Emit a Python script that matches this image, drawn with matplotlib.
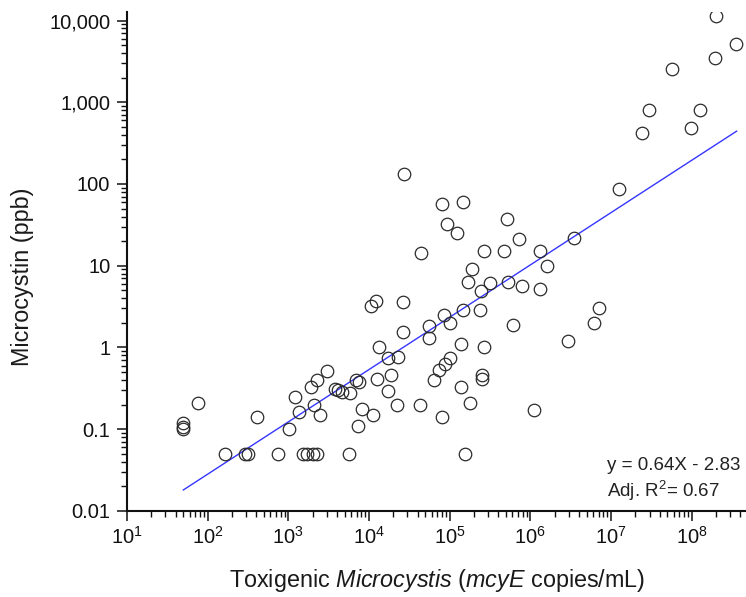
#! /usr/bin/env python

"""Microcystin vs toxigenic Microcystis (mcyE) scatter with log-log fit."""
import numpy as np
import matplotlib
matplotlib.use('Agg')
import matplotlib.pyplot as plt
from matplotlib import ticker

plt.rcParams['font.family'] = ['Liberation Sans', 'DejaVu Sans']
plt.rcParams['mathtext.fontset'] = 'custom'
plt.rcParams['mathtext.rm'] = 'Liberation Sans'
plt.rcParams['mathtext.it'] = 'Liberation Sans:italic'

# mcyE copies/mL
mcye = [50, 50, 50, 75, 165, 293, 316, 412, 745, 1020, 1210, 1370, 1530, 1690,
        2040, 2250, 5700, 1890, 2290, 2990, 2080, 2470, 3790, 4160, 4590, 5810,
        6900, 7580, 8120, 7370, 11300, 12450, 13400, 17300, 22700, 18900, 17200,
        22400, 10500, 12200, 26600, 26400, 55000, 55400, 42900, 63400, 74300,
        87500, 101000, 79600, 138000, 137000, 155000, 179000, 84300, 101000,
        145000, 238000, 248000, 269000, 249000, 249000, 604000, 1.12e6, 2.95e6,
        6.21e6, 7.16e6, 27100, 79600, 145000, 92700, 124000, 44100, 263000,
        189000, 171000, 316000, 518000, 723000, 471000, 1.30e6, 3.51e6, 1.62e6,
        531000, 777000, 1.32e6, 1.27e7, 2.0e8, 3.54e8, 1.95e8, 5.70e7, 2.96e7,
        1.27e8, 2.42e7, 9.9e7]
# microcystin, ppb
mc = [0.118, 0.107, 0.100, 0.21, 0.05, 0.05, 0.05, 0.14, 0.05, 0.10, 0.25, 0.164,
      0.05, 0.05, 0.05, 0.05, 0.05, 0.33, 0.40, 0.52, 0.20, 0.149, 0.31, 0.30,
      0.285, 0.275, 0.40, 0.38, 0.177, 0.109, 0.149, 0.41, 1.0, 0.74, 0.76, 0.46,
      0.29, 0.20, 3.2, 3.7, 3.6, 1.56, 1.32, 1.82, 0.20, 0.40, 0.53, 0.63, 0.74,
      0.14, 1.10, 0.33, 0.05, 0.21, 2.52, 2.0, 2.88, 2.88, 4.92, 1.0, 0.46, 0.41,
      1.90, 0.172, 1.20, 2.01, 3.02, 131, 57, 61, 32, 25, 14.2, 15.2, 9.1, 6.4,
      6.2, 37, 21, 15.2, 15.2, 22, 10, 6.4, 5.7, 5.2, 87, 11200, 5140, 3470,
      2540, 807, 800, 426, 482]

# fit: log10(y) = 0.64 log10(x) - 2.83
slope = 0.64
intercept = -2.83
fit_range = [50, 3.6e8]

y_ticks = [0.01, 0.1, 1, 10, 100, 1000, 10000]
x_ticks = [1e1, 1e2, 1e3, 1e4, 1e5, 1e6, 1e7, 1e8]

fig = plt.figure(figsize=(7.46, 5.97), dpi=100)
ax = fig.add_axes([0.1702, 0.1441, 0.8298, 0.8358])

fx = np.logspace(np.log10(fit_range[0]), np.log10(fit_range[1]), 50)
fy = 10 ** (slope * np.log10(fx) + intercept)
ax.plot(fx, fy, color='#3535ff', lw=1.0, zorder=2)

ax.plot(mcye, mc, 'o', ms=9, mfc='none', mec='#2b2b2b', mew=0.9, zorder=3)

ax.set_xscale('log')
ax.set_yscale('log')
ax.set_xlim(10, 10 ** 8.673)
ax.set_ylim(0.01, 10 ** 4.104)

ax.set_xticks(x_ticks)
ax.xaxis.set_major_formatter(ticker.LogFormatterMathtext())
ax.xaxis.set_minor_locator(ticker.LogLocator(base=10, subs=np.arange(2, 10), numticks=100))
ax.xaxis.set_minor_formatter(ticker.NullFormatter())

ax.set_yticks(y_ticks)
ax.yaxis.set_major_formatter(ticker.FuncFormatter(
    lambda v, p: '{:,.0f}'.format(v) if v >= 1 else '{:g}'.format(v)))
ax.yaxis.set_minor_locator(ticker.LogLocator(base=10, subs=np.arange(2, 10), numticks=100))
ax.yaxis.set_minor_formatter(ticker.NullFormatter())

for s in ['top', 'right']:
    ax.spines[s].set_visible(False)
for s in ['left', 'bottom']:
    ax.spines[s].set_linewidth(1.5)
    ax.spines[s].set_color('#111111')

ax.tick_params(which='major', length=7, width=1.1, labelsize=14.5, colors='#111111', pad=4)
ax.tick_params(which='minor', length=4.5, width=1.0, colors='#111111')
ax.tick_params(axis='y', which='major', pad=5)

ax.set_xlabel('Toxigenic $\\mathit{Microcystis}$ ($\\mathit{mcyE}$ copies/mL)',
              fontsize=16.8, color='#1a1a1a')
ax.xaxis.set_label_coords(0.501, -0.112)
ax.set_ylabel('Microcystin (ppb)', fontsize=16.8, color='#1a1a1a')
ax.yaxis.set_label_coords(-0.150, 0.469)

ax.text(0.775, 0.082, 'y = 0.64X - 2.83', transform=ax.transAxes,
        fontsize=13.5, color='#222222', va='baseline')
ax.text(0.775, 0.028, 'Adj. R$^2$= 0.67', transform=ax.transAxes,
        fontsize=13.5, color='#222222', va='baseline')

plt.savefig('out.png', dpi=100)
